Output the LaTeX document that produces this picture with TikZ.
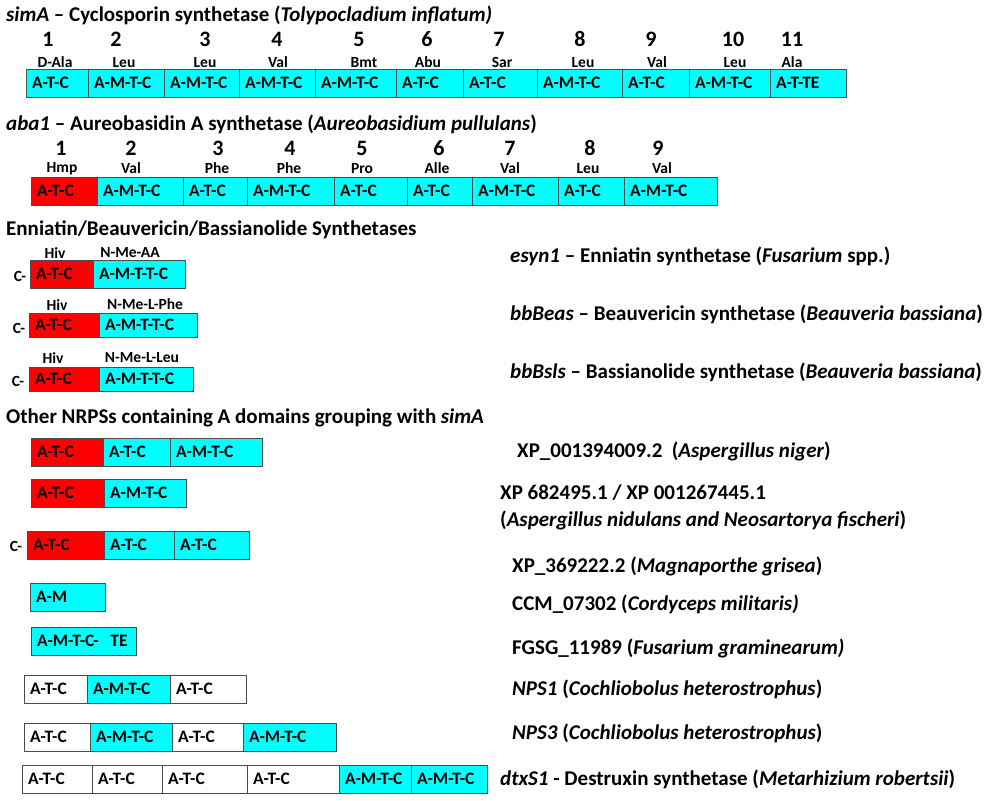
\documentclass[tikz,border=0pt]{standalone}
\usepackage{fontspec}
\setmainfont{Carlito}
\usetikzlibrary{positioning}
\definecolor{domcyan}{RGB}{0,255,255}
\definecolor{domred}{RGB}{255,0,0}
\tikzset{
  dom/.style={draw=black!70,anchor=north west,inner xsep=6pt,inner ysep=0pt,align=left,font=\fontsize{17.5}{19}\selectfont\bfseries},
  head/.style={anchor=west,inner sep=0pt,font=\fontsize{21}{24}\selectfont\bfseries},
  num/.style={inner sep=0pt,font=\fontsize{22}{24}\selectfont\bfseries},
  res/.style={inner sep=0pt,font=\fontsize{15.5}{17}\selectfont\bfseries},
  lab/.style={anchor=west,inner sep=0pt,font=\fontsize{21}{23}\selectfont\bfseries},
}
% \dom{name}{fill}{x1}{x2}{ytop}{height}{text}
\newcommand\dom[7]{\node[dom,fill=#2,minimum width={(#4-#3)*1pt},text width={(#4-#3)*1pt-12pt},minimum height=#6pt] (#1) at (#3,#5) {#7};}
\begin{document}
\begin{tikzpicture}[x=1pt,y=-1pt]
	\useasboundingbox (0,0) rectangle (987,800);

	% simA
	\node[head] (hsim) at (6,15) {\textit{simA} -- Cyclosporin synthetase (\textit{Tolypocladium inflatum)}};
	\foreach \n/\x/\r/\xr in {1/48/D-Ala/55,2/116/Leu/124,3/205/Leu/205,4/277/Val/278,5/359/Bmt/364,6/427/Abu/428,7/499/Sar/502,8/580/Leu/583,9/651/Val/657,10/733/Leu/735,11/792/Ala/792}{
		\node[num] (sn\n) at (\x,39) {\n};
		\node[res] (sr\n) at (\xr,62.5) {\r};
	}
	\dom{s1}{domcyan}{26}{88}{69}{28}{A-T-C}
	\dom{s2}{domcyan}{88}{164}{69}{28}{A-M-T-C}
	\dom{s3}{domcyan}{164}{239}{69}{28}{A-M-T-C}
	\dom{s4}{domcyan}{239}{315}{69}{28}{A-M-T-C}
	\dom{s5}{domcyan}{315}{396}{69}{28}{A-M-T-C}
	\dom{s6}{domcyan}{396}{463}{69}{28}{A-T-C}
	\dom{s7}{domcyan}{463}{537}{69}{28}{A-T-C}
	\dom{s8}{domcyan}{537}{622}{69}{28}{A-M-T-C}
	\dom{s9}{domcyan}{622}{689}{69}{28}{A-T-C}
	\dom{s10}{domcyan}{689}{770}{69}{28}{A-M-T-C}
	\dom{s11}{domcyan}{770}{846}{69}{28}{A-T-TE}

	% aba1
	\node[head] (haba) at (6,124) {\textit{aba1} -- Aureobasidin A synthetase (\textit{Aureobasidium pullulans})};
	\foreach \n/\x/\r/\xr in {1/61/Hmp/62,2/131/Val/131,3/218/Phe/217,4/290/Phe/289,5/362/Pro/362,6/439/Alle/437,7/510/Val/510,8/590/Leu/588,9/658/Val/662}{
		\node[num] (an\n) at (\x,148) {\n};
		\node[res] (ar\n) at (\xr,168.5) {\r};
	}
	\dom{a1}{domred}{31}{97}{177}{28}{A-T-C}
	\dom{a2}{domcyan}{97}{183}{177}{28}{A-M-T-C}
	\dom{a3}{domcyan}{183}{247}{177}{28}{A-T-C}
	\dom{a4}{domcyan}{247}{334}{177}{28}{A-M-T-C}
	\dom{a5}{domcyan}{334}{407}{177}{28}{A-T-C}
	\dom{a6}{domcyan}{407}{472}{177}{28}{A-T-C}
	\dom{a7}{domcyan}{472}{558}{177}{28}{A-M-T-C}
	\dom{a8}{domcyan}{558}{624}{177}{28}{A-T-C}
	\dom{a9}{domcyan}{624}{717}{177}{28}{A-M-T-C}

	% Enniatin group
	\node[head] (henn) at (6,230) {Enniatin/Beauvericin/Bassianolide Synthetases};
	\node[res] (e1h) at (55,253) {Hiv};
	\node[res] (e1m) at (130,253) {N-Me-AA};
	\node[res] (e1c) at (20,276) {C-};
	\dom{e1a}{domred}{30}{93}{260}{28}{A-T-C}
	\dom{e1b}{domcyan}{93}{185}{260}{28}{A-M-T-T-C}
	\node[lab] (e1l) at (510,256) {\textit{esyn1} -- Enniatin synthetase (\textit{Fusarium} spp.)};

	\node[res] (e2h) at (57,305) {Hiv};
	\node[res] (e2m) at (145,304) {N-Me-L-Phe};
	\node[res] (e2c) at (19,328) {C-};
	\dom{e2a}{domred}{29}{99}{313}{24}{A-T-C}
	\dom{e2b}{domcyan}{99}{197}{313}{24}{A-M-T-T-C}
	\node[lab] (e2l) at (510,314) {\textit{bbBeas} -- Beauvericin synthetase (\textit{Beauveria bassiana})};

	\node[res] (e3h) at (53,358) {Hiv};
	\node[res] (e3m) at (142,358) {N-Me-L-Leu};
	\node[res] (e3c) at (18,381) {C-};
	\dom{e3a}{domred}{29}{99}{367}{24}{A-T-C}
	\dom{e3b}{domcyan}{99}{193}{367}{24}{A-M-T-T-C}
	\node[lab] (e3l) at (510,372) {\textit{bbBsls} -- Bassianolide synthetase (\textit{Beauveria bassiana})};

	% Other NRPSs
	\node[head] (hoth) at (6,418) {Other NRPSs containing A domains grouping with \textit{simA}};
	\dom{o1a}{domred}{31}{103}{438}{28}{A-T-C}
	\dom{o1b}{domcyan}{103}{170}{438}{28}{A-T-C}
	\dom{o1c}{domcyan}{170}{262}{438}{28}{A-M-T-C}
	\node[lab] (o1l) at (517,451) {XP\_001394009.2\ \ (\textit{Aspergillus niger})};

	\dom{o2a}{domred}{31}{104}{479}{28}{A-T-C}
	\dom{o2b}{domcyan}{104}{186}{479}{28}{A-M-T-C}
	\node[lab] (o2l) at (500,493) {XP 682495.1 / XP 001267445.1};
	\node[lab] (o2m) at (500,520) {(\textit{Aspergillus nidulans and Neosartorya fischeri})};

	\node[res] (o3c) at (16,546) {C-};
	\dom{o3a}{domred}{27}{104}{531}{28}{A-T-C}
	\dom{o3b}{domcyan}{104}{174}{531}{28}{A-T-C}
	\dom{o3c}{domcyan}{174}{249}{531}{28}{A-T-C}
	\node[lab] (o3l) at (512,566) {XP\_369222.2 (\textit{Magnaporthe grisea})};

	\dom{o4a}{domcyan}{30}{105}{583}{28}{A-M}
	\node[lab] (o4l) at (512,604) {CCM\_07302 (\textit{Cordyceps militaris)}};

	\dom{o5a}{domcyan}{31}{136}{627}{28}{A-M-T-C-\ \ TE}
	\node[lab] (o5l) at (512,648) {FGSG\_11989 (\textit{Fusarium graminearum)}};

	\dom{o6a}{white}{24}{87}{675}{28}{A-T-C}
	\dom{o6b}{domcyan}{87}{170}{675}{28}{A-M-T-C}
	\dom{o6c}{white}{170}{246}{675}{28}{A-T-C}
	\node[lab] (o6l) at (512,689) {\textit{NPS1} (\textit{Cochliobolus heterostrophus})};

	\dom{o7a}{white}{24}{90}{723}{28}{A-T-C}
	\dom{o7b}{domcyan}{90}{172}{723}{28}{A-M-T-C}
	\dom{o7c}{white}{172}{243}{723}{28}{A-T-C}
	\dom{o7d}{domcyan}{243}{336}{723}{28}{A-M-T-C}
	\node[lab] (o7l) at (512,733) {\textit{NPS3} (\textit{Cochliobolus heterostrophus})};

	\dom{o8a}{white}{22}{92}{765}{28}{A-T-C}
	\dom{o8b}{white}{92}{162}{765}{28}{A-T-C}
	\dom{o8c}{white}{162}{247}{765}{28}{A-T-C}
	\dom{o8d}{white}{247}{339}{765}{28}{A-T-C}
	\dom{o8e}{domcyan}{339}{411}{765}{28}{A-M-T-C}
	\dom{o8f}{domcyan}{411}{487}{765}{28}{A-M-T-C}
	\node[lab] (o8l) at (500,779) {\textit{dtxS1} - Destruxin synthetase (\textit{Metarhizium robertsii})};
\end{tikzpicture}
\end{document}
